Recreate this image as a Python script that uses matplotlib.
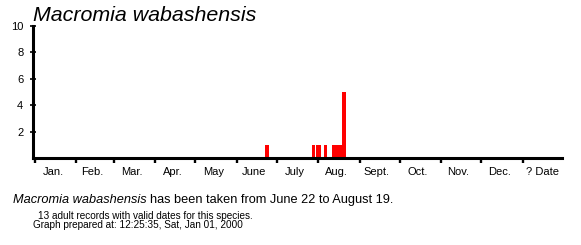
import matplotlib
matplotlib.use("Agg")
import matplotlib.pyplot as plt
import pandas as pd

species = "Macromia wabashensis"
month_labels = ["Jan.", "Feb.", "Mar.", "Apr.", "May", "June", "July",
                "Aug.", "Sept.", "Oct.", "Nov.", "Dec.", "? Date"]
record_dates = ["06-22", "07-27", "07-30", "07-31", "08-05",
                "08-11", "08-13", "08-16", "08-19"]
record_counts = [1, 1, 1, 1, 1, 1, 1, 1, 5]
y_ticks = [2, 4, 6, 8, 10]
summary = "has been taken from June 22 to August 19."
note1 = "13 adult records with valid dates for this species."
note2 = "Graph prepared at: 12:25:35, Sat, Jan 01, 2000"

FONT = "Liberation Sans"
W, H = 581, 245

# day index (Jan 1 = 0) in a non-leap year
days = [pd.Timestamp(f"2001-{d}").dayofyear - 1 for d in record_dates]
month_starts = [pd.Timestamp(2001, m, 1).dayofyear - 1 for m in range(1, 13)] + [365]
unknown_end = 395
edges = month_starts + [unknown_end]
mids = [(a + b) / 2 - 2 for a, b in zip(edges[:-1], edges[1:])]
mids[-1] += 2

fig = plt.figure(figsize=(W / 100, H / 100), dpi=100)
ax = fig.add_axes([33 / W, 1 - 158 / H, 529 / W, 132 / H])

ax.bar(days, record_counts, width=2.8, align="edge", color="#ff0000", linewidth=0)

ax.set_xlim(-1.5, 394.5)
ax.set_ylim(0, 10)
for s in ["top", "right"]:
    ax.spines[s].set_visible(False)
for s in ["left", "bottom"]:
    ax.spines[s].set_linewidth(2.2)
    ax.spines[s].set_color("black")

ax.set_xticks(month_starts)
ax.set_xticklabels([])
ax.tick_params(axis="x", direction="out", length=3.4, width=1.7, color="black")
ax.set_xticks(mids, minor=True)
ax.set_xticklabels(month_labels, minor=True, fontsize=8, family=FONT)
ax.tick_params(axis="x", which="minor", length=0, pad=6.5)

ax.set_yticks(y_ticks)
ax.set_yticklabels([str(v) for v in y_ticks], fontsize=8, family=FONT)
ax.tick_params(axis="y", direction="inout", length=4, width=1.2, pad=5, color="black")

fig.text(33 / W, 1 - 21 / H, species, fontsize=15.4, style="italic",
         family=FONT, va="baseline", ha="left")

t1 = fig.text(12.7 / W, 1 - 202.5 / H, species, fontsize=9.2, style="italic",
              family=FONT, va="baseline", ha="left")
fig.canvas.draw()
bb = t1.get_window_extent(fig.canvas.get_renderer())
fig.text((bb.x1 + 3.6) / W, 1 - 202.5 / H, summary, fontsize=9.2,
         family=FONT, va="baseline", ha="left")

fig.text(38 / W, 1 - 218.5 / H, note1, fontsize=7.2, family=FONT,
         va="baseline", ha="left")
fig.text(32.7 / W, 1 - 228 / H, note2, fontsize=7.2, family=FONT,
         va="baseline", ha="left")

fig.savefig("out.png", dpi=100)
